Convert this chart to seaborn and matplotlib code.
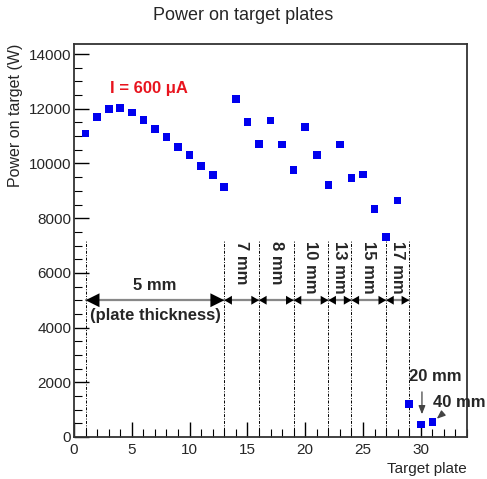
import numpy as np
import pandas as pd
import matplotlib
matplotlib.use("Agg")
import matplotlib.pyplot as plt
from matplotlib.ticker import MultipleLocator
from matplotlib.patches import FancyArrowPatch
import seaborn as sns

plates = list(range(1, 32))
power = [11100, 11690, 11990, 12020, 11860, 11590, 11260, 10960, 10600, 10300,
         9910, 9570, 9140,
         12350, 11510, 10720, 11570, 10700, 9760, 11330, 10300, 9210, 10700,
         9480, 9600, 8340, 7320, 8650,
         1200, 460, 550]
boundaries = [1, 13, 16, 19, 22, 24, 27, 29]
thick_labels = ["5 mm", "7 mm", "8 mm", "10 mm", "13 mm", "15 mm", "17 mm"]

sns.set_style("ticks")
plt.rcParams['font.family'] = ['Liberation Sans', 'DejaVu Sans']

fig = plt.figure(figsize=(4.87, 4.79), dpi=100)
ax = fig.add_axes([0.152, 0.0877, 0.807, 0.8205])

df = pd.DataFrame({"plate": plates, "power": power})
sns.scatterplot(data=df, x="plate", y="power", marker="s", color="#0000ee",
                s=30, edgecolor="none", ax=ax, zorder=5)

ax.set_xlim(0, 34)
ax.set_ylim(0, 14370)
ax.xaxis.set_major_locator(MultipleLocator(5))
ax.xaxis.set_minor_locator(MultipleLocator(1))
ax.yaxis.set_major_locator(MultipleLocator(2000))
ax.yaxis.set_minor_locator(MultipleLocator(500))
ax.tick_params(which='both', direction='in', top=False, right=False, labelsize=11, color='black')
ax.tick_params(which='major', length=11, width=1)
ax.tick_params(which='minor', length=6, width=0.8)
for sp in ax.spines.values():
    sp.set_linewidth(1.3)
    sp.set_color('#333333')
ax.tick_params(axis='x', pad=4)
ax.tick_params(axis='y', pad=2)

ax.set_xlabel("Target plate", loc='right', fontsize=11)
ax.set_ylabel("Power on target (W)", loc='top', fontsize=11.5)
fig.suptitle("Power on target plates", y=0.985, fontsize=13)

# dashed boundaries
for b in boundaries:
    ax.plot([b, b], [0, 7200], color='black', lw=0.7, ls=(0, (3, 1.5, 1, 1.5)), zorder=2)

# arrows
yarr = 5000
ax.plot([boundaries[0], boundaries[-1]], [yarr, yarr], color='#888888', lw=1.6, zorder=3)
for i in range(len(boundaries) - 1):
    a, b = boundaries[i], boundaries[i + 1]
    if i == 0:
        hl, hw = 1.0, 0.5
    else:
        hl, hw = 0.55, 0.32
    arr = FancyArrowPatch((a, yarr), (b, yarr),
                          arrowstyle=f'<|-|>,head_length={hl},head_width={hw}',
                          mutation_scale=10, color='black', lw=0.0, zorder=4,
                          shrinkA=0, shrinkB=0)
    ax.add_patch(arr)

ax.text(7, 5250, thick_labels[0], ha='center', va='bottom', fontsize=12, fontweight='bold')
ax.text(7, 4700, "(plate thickness)", ha='center', va='top', fontsize=12, fontweight='bold')
for i in range(1, len(boundaries) - 1):
    xm = (boundaries[i] + boundaries[i + 1]) / 2
    ax.text(xm, 7150, thick_labels[i], ha='center', va='top', rotation=270,
            fontsize=12, fontweight='bold')

ax.text(3.1, 12750, "I = 600 \u03bcA", color='#e8141e', ha='left', va='center',
        fontsize=12, fontweight='bold')

ax.text(29.0, 2200, "20 mm", ha='left', va='center', fontsize=12, fontweight='bold')
ax.annotate("", xy=(30.1, 730), xytext=(30.1, 1750),
            arrowprops=dict(arrowstyle='-|>,head_length=0.5,head_width=0.2', color='#444444', lw=0.9))
ax.text(31.05, 1250, "40 mm", ha='left', va='center', fontsize=12, fontweight='bold')
ax.annotate("", xy=(31.2, 600), xytext=(32.1, 930),
            arrowprops=dict(arrowstyle='-|>,head_length=0.5,head_width=0.2', color='#444444', lw=0.9))

fig.savefig("out.png", dpi=100)
